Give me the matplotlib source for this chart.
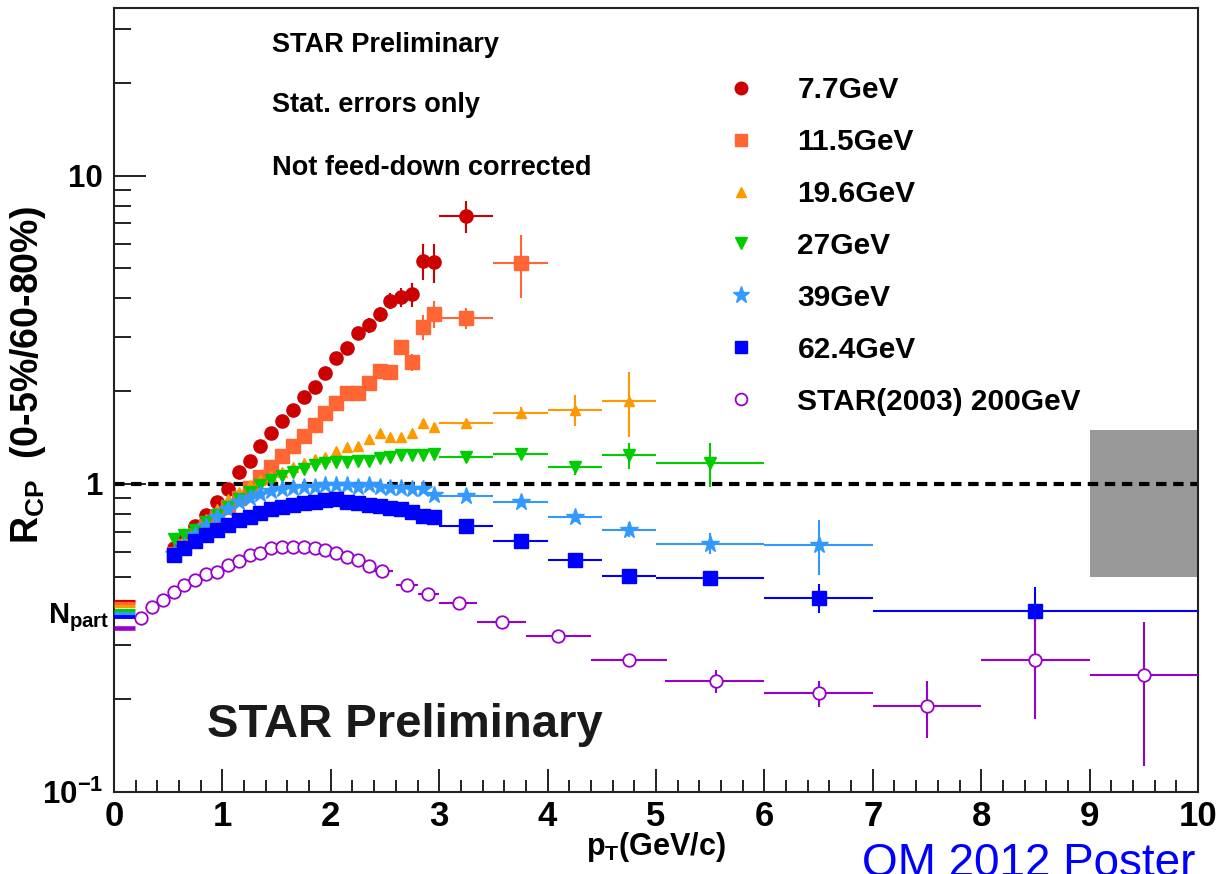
import matplotlib
matplotlib.use("Agg")
import matplotlib.pyplot as plt
from matplotlib.lines import Line2D
from matplotlib.patches import Rectangle
from matplotlib.ticker import MultipleLocator, LogLocator, NullFormatter

plt.rcParams["font.family"] = ["Liberation Sans", "DejaVu Sans"]
plt.rcParams["font.weight"] = "bold"
plt.rcParams["mathtext.fontset"] = "custom"
plt.rcParams["mathtext.rm"] = "Liberation Sans:bold"
plt.rcParams["mathtext.it"] = "Liberation Sans:bold"
plt.rcParams["mathtext.bf"] = "Liberation Sans:bold"

# BES pT bins (GeV/c): 0.1 wide up to 3, then 0.5, 1 and 3 wide bins
pt_bes = [0.55, 0.65, 0.75, 0.85, 0.95, 1.05, 1.15, 1.25, 1.35, 1.45,
          1.55, 1.65, 1.75, 1.85, 1.95, 2.05, 2.15, 2.25, 2.35, 2.45,
          2.55, 2.65, 2.75, 2.85, 2.95, 3.25, 3.75, 4.25, 4.75, 5.5,
          6.5, 8.5]
xerr_bes = [0, 0, 0, 0, 0, 0, 0, 0, 0, 0,
            0, 0, 0, 0, 0, 0, 0, 0, 0, 0,
            0, 0, 0, 0, 0, 0.25, 0.25, 0.25, 0.25, 0.5,
            0.5, 1.5]

rcp_77 = [0.62, 0.67, 0.73, 0.79, 0.87, 0.96, 1.09, 1.19, 1.33, 1.46,
          1.60, 1.74, 1.91, 2.06, 2.29, 2.56, 2.75, 3.08, 3.27, 3.55,
          3.92, 4.03, 4.12, 5.30, 5.25, 7.40]
err_77 = [0.01, 0.01, 0.01, 0.01, 0.02, 0.02, 0.02, 0.03, 0.03, 0.04,
          0.04, 0.05, 0.06, 0.07, 0.08, 0.10, 0.12, 0.15, 0.18, 0.20,
          0.24, 0.28, 0.37, 0.70, 0.75, 0.90]

rcp_115 = [0.59, 0.63, 0.68, 0.73, 0.78, 0.84, 0.90, 0.97, 1.05, 1.13,
           1.23, 1.33, 1.43, 1.55, 1.70, 1.83, 1.97, 1.97, 2.12, 2.32,
           2.30, 2.77, 2.48, 3.22, 3.57, 3.44, 5.20]
err_115 = [0.01, 0.01, 0.01, 0.01, 0.01, 0.02, 0.02, 0.02, 0.02, 0.03,
           0.03, 0.03, 0.04, 0.04, 0.05, 0.05, 0.06, 0.07, 0.08, 0.09,
           0.10, 0.14, 0.15, 0.30, 0.36, 0.27, 1.20]

rcp_196 = [0.60, 0.66, 0.71, 0.77, 0.83, 0.89, 0.94, 0.99, 1.03, 1.06,
           1.09, 1.13, 1.17, 1.20, 1.22, 1.28, 1.32, 1.33, 1.40, 1.46,
           1.42, 1.42, 1.46, 1.57, 1.53, 1.57, 1.70, 1.74, 1.86]
err_196 = [0.01, 0.01, 0.01, 0.01, 0.01, 0.01, 0.01, 0.01, 0.01, 0.01,
           0.01, 0.01, 0.01, 0.02, 0.02, 0.02, 0.02, 0.02, 0.03, 0.03,
           0.03, 0.03, 0.04, 0.04, 0.05, 0.05, 0.07, 0.20, 0.44]

rcp_27 = [0.66, 0.68, 0.71, 0.75, 0.79, 0.84, 0.89, 0.94, 0.99, 1.03,
          1.06, 1.09, 1.12, 1.15, 1.17, 1.18, 1.18, 1.19, 1.19, 1.21,
          1.22, 1.24, 1.24, 1.24, 1.25, 1.22, 1.25, 1.13, 1.24, 1.17]
err_27 = [0.01, 0.01, 0.01, 0.01, 0.01, 0.01, 0.01, 0.01, 0.01, 0.01,
          0.01, 0.01, 0.01, 0.01, 0.01, 0.01, 0.01, 0.01, 0.01, 0.02,
          0.02, 0.02, 0.02, 0.02, 0.02, 0.03, 0.05, 0.06, 0.12, 0.19]

rcp_39 = [0.59, 0.63, 0.68, 0.73, 0.78, 0.83, 0.87, 0.90, 0.93, 0.95,
          0.96, 0.97, 0.98, 0.98, 0.99, 0.99, 0.99, 0.98, 0.99, 0.98,
          0.97, 0.97, 0.96, 0.96, 0.92, 0.91, 0.87, 0.78, 0.71, 0.64,
          0.635]
err_39 = [0.005, 0.005, 0.005, 0.005, 0.005, 0.005, 0.005, 0.005, 0.005, 0.005,
          0.005, 0.005, 0.005, 0.005, 0.005, 0.005, 0.01, 0.01, 0.01, 0.01,
          0.01, 0.01, 0.01, 0.01, 0.01, 0.02, 0.03, 0.03, 0.04, 0.05,
          0.13]

rcp_624 = [0.589, 0.62, 0.65, 0.684, 0.71, 0.737, 0.765, 0.782, 0.806, 0.83,
           0.842, 0.855, 0.868, 0.874, 0.887, 0.89, 0.874, 0.868, 0.855, 0.849,
           0.836, 0.826, 0.81, 0.788, 0.78, 0.73, 0.65, 0.568, 0.504, 0.496,
           0.427, 0.388]
err_624 = [0.005, 0.005, 0.005, 0.005, 0.005, 0.005, 0.005, 0.005, 0.005, 0.005,
           0.005, 0.005, 0.005, 0.005, 0.005, 0.005, 0.005, 0.005, 0.005, 0.005,
           0.005, 0.005, 0.005, 0.01, 0.01, 0.01, 0.01, 0.01, 0.01, 0.015,
           0.045, 0.076]

# STAR (2003) 200 GeV reference
pt_200 = [0.25, 0.35, 0.45, 0.55, 0.65, 0.75, 0.85, 0.95, 1.05, 1.15,
          1.25, 1.35, 1.45, 1.55, 1.65, 1.75, 1.85, 1.95, 2.05, 2.15,
          2.25, 2.35, 2.47, 2.7, 2.9, 3.18, 3.58, 4.1, 4.75, 5.55,
          6.5, 7.5, 8.5, 9.5]
rcp_200 = [0.368, 0.397, 0.42, 0.444, 0.468, 0.489, 0.511, 0.519, 0.547, 0.563,
           0.589, 0.598, 0.621, 0.625, 0.625, 0.625, 0.62, 0.61, 0.598, 0.58,
           0.567, 0.54, 0.52, 0.468, 0.44, 0.41, 0.357, 0.32, 0.268, 0.229,
           0.209, 0.19, 0.269, 0.239]
err_200 = [0.004, 0.004, 0.004, 0.004, 0.004, 0.004, 0.004, 0.004, 0.004, 0.004,
           0.004, 0.004, 0.004, 0.004, 0.004, 0.004, 0.004, 0.004, 0.004, 0.004,
           0.005, 0.005, 0.005, 0.008, 0.008, 0.01, 0.012, 0.012, 0.01, 0.02,
           0.02, 0.04, 0.097, 0.118]
xlo_200 = [0, 0, 0, 0, 0, 0, 0, 0, 0, 0,
           0, 0, 0, 0, 0, 0, 0, 0, 0, 0,
           0, 0, 0.1, 0.1, 0.1, 0.18, 0.23, 0.3, 0.35, 0.47,
           0.5, 0.5, 0.5, 0.5]
xhi_200 = [0, 0, 0, 0, 0, 0, 0, 0, 0, 0,
           0, 0, 0, 0, 0, 0, 0, 0, 0, 0,
           0, 0, 0.1, 0.1, 0.1, 0.17, 0.22, 0.3, 0.35, 0.45,
           0.5, 0.5, 0.5, 0.5]

labels = ["7.7GeV", "11.5GeV", "19.6GeV", "27GeV", "39GeV", "62.4GeV",
          "STAR(2003) 200GeV"]
colors = ["#CC0000", "#FF6633", "#FF9900", "#00CC00", "#3399FF", "#0000FF",
          "#9900CC"]
# N_part scaling expectation for each energy (coloured bars at the axis)
npart_scale = [0.418, 0.409, 0.400, 0.390, 0.381, 0.3705, 0.341]

# normalisation uncertainty box
norm_box_pt = [9.0, 10.0]
norm_box_rcp = [0.5, 1.5]

fig = plt.figure(figsize=(12.19, 8.74), dpi=100)
ax = fig.add_axes([114 / 1219, 1 - 792 / 874, 1084 / 1219, 784 / 874])
ax.set_yscale("log")
ax.set_xlim(0, 10)
ax.set_ylim(0.1, 35)

ax.add_patch(Rectangle((norm_box_pt[0], norm_box_rcp[0]),
                       norm_box_pt[1] - norm_box_pt[0],
                       norm_box_rcp[1] - norm_box_rcp[0],
                       facecolor="#999999", edgecolor="none", zorder=1))
ax.axhline(1.0, color="black", lw=3, ls=(0, (2.5, 1.6)), zorder=2)

bes = [(rcp_77, err_77, "o", 9.5), (rcp_115, err_115, "s", 9.5),
       (rcp_196, err_196, "^", 7.5), (rcp_27, err_27, "v", 8.5),
       (rcp_39, err_39, "*", 13), (rcp_624, err_624, "s", 9.5)]
handles = []
for (y, e, mk, ms), c in zip(bes, colors):
    n = len(y)
    ax.errorbar(pt_bes[:n], y, yerr=e, xerr=xerr_bes[:n], fmt=mk, ms=ms,
                color=c, mec=c, elinewidth=1.5, capsize=0, zorder=3)
    handles.append(Line2D([], [], ls="none", marker=mk, ms=ms * 0.95,
                          color=c, mec=c))

ax.errorbar(pt_200, rcp_200, yerr=err_200, xerr=[xlo_200, xhi_200], fmt="o",
            ms=9, mfc="white", mec=colors[6], mew=1.3, color=colors[6],
            elinewidth=1.5, capsize=0, zorder=3)
handles.append(Line2D([], [], ls="none", marker="o", ms=8.5, mfc="white",
                      mec=colors[6], mew=1.3))

ax.hlines(npart_scale, 0, 0.19, colors=colors,
          linewidths=[2.3, 2.3, 2.3, 2.3, 2.3, 2.8, 3.3], zorder=4)

# ROOT-like axes
for s in ax.spines.values():
    s.set_linewidth(1.5)
    s.set_color("#222222")
ax.xaxis.set_major_locator(MultipleLocator(1))
ax.xaxis.set_minor_locator(MultipleLocator(0.2))
ax.yaxis.set_minor_locator(LogLocator(base=10, subs=(2, 3, 4, 5, 6, 7, 8, 9), numticks=10))
ax.yaxis.set_minor_formatter(NullFormatter())
ax.set_yticks([0.1, 1, 10])
ax.set_yticklabels([r"$10^{-1}$", "1", "10"])
ax.tick_params(axis="both", which="both", direction="in", top=False,
               right=False, width=1.4, color="#222222")
ax.tick_params(axis="y", which="major", length=23, pad=8, labelsize=22.5)
ax.tick_params(axis="y", which="minor", length=12)
ax.tick_params(axis="x", which="major", length=16.5, pad=6, labelsize=25)
ax.tick_params(axis="x", which="minor", length=8.5)

ax.text(0.5, -63 / 784, r"$p_T$(GeV/c)", transform=ax.transAxes,
        ha="center", va="baseline", fontsize=22)
fig.text(28 / 1219, 1 - 375 / 874, r"$R_{CP}$  (0-5%/60-80%)", rotation=90,
         ha="center", va="center", fontsize=27)
ax.text(-0.004, (792 - 623) / 784, r"$N_{part}$", transform=ax.transAxes,
        ha="right", va="baseline", fontsize=21)

ax.text(0.1459, 0.9439, "STAR Preliminary", transform=ax.transAxes,
        fontsize=19.5, va="baseline")
ax.text(0.1459, 0.8673, "Stat. errors only", transform=ax.transAxes,
        fontsize=19.5, va="baseline")
ax.text(0.1459, 0.7870, "Not feed-down corrected", transform=ax.transAxes,
        fontsize=19.5, va="baseline")
ax.text(0.0859, 0.0702, "STAR Preliminary", transform=ax.transAxes,
        fontsize=34, va="baseline", color="#1a1a1a")

ax.legend(handles, labels, loc="upper left", bbox_to_anchor=(0.565, 0.913),
          frameon=False, fontsize=21.5, handlelength=1.0, handletextpad=1.375,
          labelspacing=0.80, borderpad=0, borderaxespad=0)

fig.text(862 / 1219, -0.002, "QM 2012 Poster", color="#0000FF",
         fontsize=33, fontweight="normal", va="baseline")

fig.savefig("out.png", dpi=100)
